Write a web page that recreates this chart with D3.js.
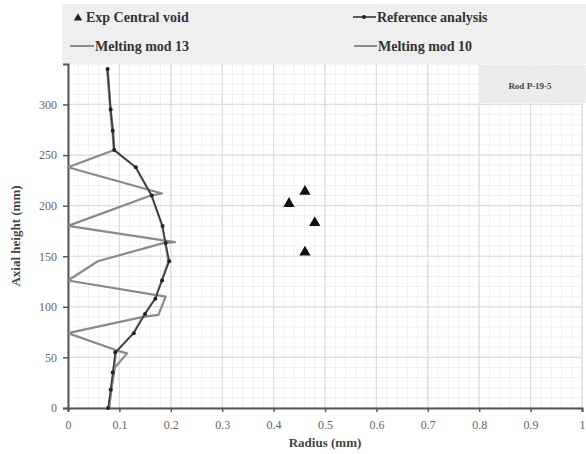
<!DOCTYPE html>
<html><head><meta charset="utf-8">
<script src="https://cdn.jsdelivr.net/npm/d3@7"></script>
<style>body{margin:0;background:#fff}svg{display:block}</style>
</head><body><svg id="c" width="586" height="454"></svg>
<script>
const xTicks = [0,0.1,0.2,0.3,0.4,0.5,0.6,0.7,0.8,0.9,1];
const xTickLabels = ["0","0.1","0.2","0.3","0.4","0.5","0.6","0.7","0.8","0.9","1"];
const yTicks = [0,50,100,150,200,250,300];
const expVoidR = [0.461,0.430,0.480,0.461];
const expVoidH = [214,202,183,154];
const refR = [0.078,0.083,0.087,0.092,0.128,0.150,0.170,0.183,0.197,0.190,0.184,0.163,0.132,0.090,0.087,0.083,0.077];
const refH = [0,18,35,55,74,93,108,126,145,163,180,210,238,255,274,295,335];
const mod13R = [0.080,0.085,0.091,0.115,0.094,0,0.146,0.176,0.190,0,0.058,0.185,0.208,0,0.161,0.183,0,0.090,0.088,0.083,0.077];
const mod13H = [0,20,40,54,57,74,90,92,110,126,145,163,164,180,210,212,238,255,274,295,335];
const mod10R = [0.079,0.084,0.089,0.093,0.127,0.149,0.169,0.182,0.195,0.189,0.183,0.162,0.131,0.089,0.086,0.082,0.076];
const mod10H = [0,18,35,55,74,93,108,126,145,163,180,210,238,255,274,295,335];
const legendLabels = ["Exp Central void","Reference analysis","Melting mod 13","Melting mod 10"];
const rodLabel = "Rod P-19-5";

const svg = d3.select("#c");
const x = d3.scaleLinear().domain([0,1]).range([68,582]);
const y = d3.scaleLinear().domain([0,340]).range([408,64]);
const serif = "'Liberation Serif','Times New Roman',serif";

// legend background
svg.append("rect").attr("x",62).attr("y",4).attr("width",524).attr("height",60).attr("fill","#efefef");

// grid
const minorX = d3.range(0,1.0001,0.02);
const minorY = d3.range(0,340.1,10);
svg.append("g").selectAll("line").data(minorX).join("line")
  .attr("x1",d=>x(d)).attr("x2",d=>x(d)).attr("y1",y(340)).attr("y2",y(0))
  .attr("stroke","#f0f0f0").attr("stroke-width",1);
svg.append("g").selectAll("line").data(minorY).join("line")
  .attr("y1",d=>y(d)).attr("y2",d=>y(d)).attr("x1",x(0)).attr("x2",x(1))
  .attr("stroke","#f0f0f0").attr("stroke-width",1);
svg.append("g").selectAll("line").data(xTicks).join("line")
  .attr("x1",d=>x(d)).attr("x2",d=>x(d)).attr("y1",y(340)).attr("y2",y(0))
  .attr("stroke","#dddddd").attr("stroke-width",1.2);
svg.append("g").selectAll("line").data(yTicks).join("line")
  .attr("y1",d=>y(d)).attr("y2",d=>y(d)).attr("x1",x(0)).attr("x2",x(1))
  .attr("stroke","#dddddd").attr("stroke-width",1.2);

// rod label box
svg.append("rect").attr("x",479).attr("y",65).attr("width",107).attr("height",38).attr("fill","#ececec");
svg.append("text").attr("x",530).attr("y",89).attr("text-anchor","middle")
  .attr("font-family",serif).attr("font-weight","bold").attr("font-size",9).attr("fill","#444").text(rodLabel);

// axes
const xAxis = d3.axisBottom(x).tickValues(xTicks).tickFormat((d,i)=>xTickLabels[i]).tickSize(4).tickPadding(8);
const gx = svg.append("g").attr("transform",`translate(0,${y(0)})`).call(xAxis);
const yAxis = d3.axisLeft(y).tickValues(yTicks).tickSize(5).tickPadding(6);
const gy = svg.append("g").attr("transform",`translate(${x(0)},0)`).call(yAxis);
[gx,gy].forEach(g=>{
  g.select(".domain").attr("stroke","#555").attr("stroke-width",2);
  g.selectAll(".tick line").attr("stroke","#555").attr("stroke-width",1.5);
  g.selectAll(".tick text").attr("font-family",serif).attr("font-size",12).attr("fill","#666");
});

// titles
svg.append("text").attr("x",x(0.5)).attr("y",447).attr("text-anchor","middle")
  .attr("font-family",serif).attr("font-weight","bold").attr("font-size",13).attr("fill","#444").text("Radius (mm)");
svg.append("text").attr("transform",`translate(20,${y(170)}) rotate(-90)`).attr("text-anchor","middle")
  .attr("font-family",serif).attr("font-weight","bold").attr("font-size",13).attr("fill","#444").text("Axial height (mm)");

// lines
const line = d3.line().x(d=>x(d[0])).y(d=>y(d[1]));
const mod10 = mod10R.map((r,i)=>[r,mod10H[i]]);
const mod13 = mod13R.map((r,i)=>[r,mod13H[i]]);
const ref = refR.map((r,i)=>[r,refH[i]]);
svg.append("path").datum(mod10).attr("d",line).attr("fill","none").attr("stroke","#8a8a8a").attr("stroke-width",2);
svg.append("path").datum(mod13).attr("d",line).attr("fill","none").attr("stroke","#8a8a8a").attr("stroke-width",2.2).attr("stroke-linejoin","round");
svg.append("path").datum(ref).attr("d",line).attr("fill","none").attr("stroke","#3a3a3a").attr("stroke-width",1.6);
svg.append("g").selectAll("circle").data(ref).join("circle")
  .attr("cx",d=>x(d[0])).attr("cy",d=>y(d[1])).attr("r",2).attr("fill","#222");

// triangles
const tri = d3.symbol().type(d3.symbolTriangle).size(55);
svg.append("g").selectAll("path").data(expVoidR.map((r,i)=>[r,expVoidH[i]])).join("path")
  .attr("d",tri).attr("transform",d=>`translate(${x(d[0])},${y(d[1])})`).attr("fill","#111");

// legend
const lg = svg.append("g").attr("font-family",serif).attr("font-weight","bold").attr("font-size",14).attr("fill","#333");
lg.append("path").attr("d",d3.symbol().type(d3.symbolTriangle).size(30)).attr("transform","translate(78,18)").attr("fill","#222");
lg.append("text").attr("x",86).attr("y",22).text(legendLabels[0]);
lg.append("line").attr("x1",353).attr("x2",376).attr("y1",17).attr("y2",17).attr("stroke","#333").attr("stroke-width",1.6);
lg.append("circle").attr("cx",364).attr("cy",17).attr("r",2).attr("fill","#222");
lg.append("text").attr("x",377).attr("y",22).text(legendLabels[1]);
lg.append("line").attr("x1",70).attr("x2",94).attr("y1",46).attr("y2",46).attr("stroke","#8a8a8a").attr("stroke-width",2);
lg.append("text").attr("x",95).attr("y",51).text(legendLabels[2]);
lg.append("line").attr("x1",354).attr("x2",377).attr("y1",46).attr("y2",46).attr("stroke","#8a8a8a").attr("stroke-width",2);
lg.append("text").attr("x",378).attr("y",51).text(legendLabels[3]);
</script></body></html>
